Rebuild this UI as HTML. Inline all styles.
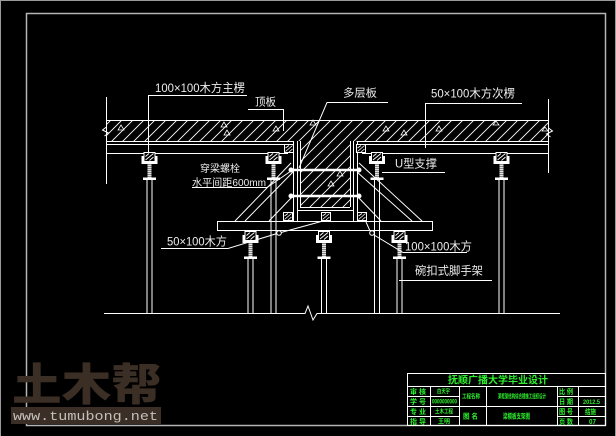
<!DOCTYPE html>
<html><head><meta charset="utf-8"><style>
html,body{margin:0;padding:0;background:#000;}
svg{display:block}
.t{font-family:"Liberation Sans","Noto Sans CJK SC",sans-serif;fill:#ececec}
.g{font-family:"Liberation Sans","Noto Sans CJK SC",sans-serif;fill:#2ef02e;font-weight:bold}
</style></head><body>
<svg width="616" height="436" viewBox="0 0 616 436" xmlns="http://www.w3.org/2000/svg">
<defs>
<pattern id="h" patternUnits="userSpaceOnUse" width="11" height="11">
<path d="M0,11 L11,0 M-1,1 L1,-1 M10,12 L12,10" stroke="#fff" stroke-width="0.9"/>
</pattern>
<clipPath id="sc"><path d="M106,120 H548 V141 H350 V207 H300 V141 H106 Z"/></clipPath>
<g id="u">
<rect x="-8" y="4" width="16" height="8" fill="#fff"/>
<rect x="-5.5" y="0.5" width="11" height="9" fill="#000" stroke="#fff" stroke-width="1"/>
<path d="M-4,8 L4,1.5 M-4,4.5 L-0.5,1.5 M0,8.5 L4,5" stroke="#fff" stroke-width="0.9" fill="none"/>
<rect x="-2" y="12" width="4" height="14" fill="#888"/>
<path d="M-2,13.5h4M-2,15.5h4M-2,17.5h4M-2,19.5h4M-2,21.5h4M-2,23.5h4M-2,25.5h4" stroke="#fff" stroke-width="0.8"/>
<rect x="-6.5" y="25.5" width="13" height="2.5" fill="#fff"/>
</g>
<g id="blk">
<rect x="0.5" y="0.5" width="9" height="8" fill="#000" stroke="#fff"/>
<path d="M1.5,7.5 L8.5,1.5 M1.5,4 L5,1.5 M5,8 L8.5,5" stroke="#fff" stroke-width="0.8"/>
</g>
</defs>
<rect width="616" height="436" fill="#000"/>
<!-- outer border -->
<path d="M0.5,436 V0.5 H615.5 V436" stroke="#9a9a9a" fill="none"/>
<rect x="26.5" y="13.5" width="579" height="412" fill="none" stroke="#b4b4b4" stroke-width="1.5"/>

<!-- slab + beam hatch -->
<rect x="100" y="115" width="460" height="100" fill="url(#h)" clip-path="url(#sc)"/>
<g stroke="#fff" stroke-width="1" fill="none">
<path d="M106,120.5 H548"/>
<path d="M106,141.5 H293.5 M356.5,141.5 H548"/>
<path d="M106,144.5 H288 M362,144.5 H548"/>
<path d="M106,153.5 H288 M362,153.5 H548"/>
<!-- extension lines -->
<path d="M106.5,97 V184"/>
<path d="M548.5,99 V173"/>
<!-- break zigzags -->
<path d="M106.5,127 l-4,3 l6,3 l-4,3"/>
<path d="M548.5,128 l4,3 l-6,3 l4,3"/>
<!-- beam formwork -->
<path d="M293.5,141 V221 M297.5,141 V221 M300.5,141 V207"/>
<path d="M350.5,141 V207 M353.5,141 V221 M357.5,141 V221"/>
<path d="M300,207.5 H350 M297,210.5 H354"/>
</g>
<use href="#blk" x="284" y="144"/>
<use href="#blk" x="356" y="144"/>
<use href="#blk" x="283" y="212"/>
<use href="#blk" x="321" y="212"/>
<use href="#blk" x="357" y="212"/>
<!-- concrete marks -->
<g stroke="#fff" stroke-width="0.8" fill="none">
<path d="M118,130 l3,-5 l3,5 z M221,127 l3,-5 l3,5 z M224,135 l3,-5 l3,5 z M273,131 l3,-5 l3,5 z M383,131 l3,-5 l3,5 z M401,135 l3,-5 l3,5 z M436,131 l3,-5 l3,5 z M493,125 l3,-4 l3,4 z M542,131 l3,-4 l3,4 z M328,186 l3,-5 l3,5 z M337,176 l3,-5 l3,5 z M310,125 l3,-5 l3,5 z"/>
</g>
<!-- bolts -->
<g stroke="#fff" fill="#fff">
<path d="M290,170 H360 M290,196 H360" stroke-width="2.6"/>
<circle cx="291" cy="170" r="2"/><circle cx="359" cy="170" r="2"/>
<circle cx="291" cy="196" r="2"/><circle cx="359" cy="196" r="2"/>
</g>
<!-- diagonal struts -->
<g stroke="#fff" stroke-width="1" fill="none">
<path d="M291,163 L235,221 M293,172 L245,221 M293,196 L269,221"/>
<path d="M359,163 L422,221 M357,172 L412,221 M357,196 L381,221"/>
</g>
<!-- wide plank -->
<rect x="217.5" y="221.5" width="215" height="9" fill="#000" stroke="#fff"/>

<!-- poles -->
<g stroke="#fff" stroke-width="1" fill="none">
<path d="M147,179 V313 M152,179 V313"/>
<path d="M271,179 V313 M276,179 V313"/>
<path d="M374.5,179 V313 M379.5,179 V313"/>
<path d="M499,179 V313 M504,179 V313"/>
<path d="M248,258 V313 M253,258 V313"/>
<path d="M321.5,258 V313 M326.5,258 V313"/>
<path d="M397,258 V313 M402,258 V313"/>
</g>
<use href="#u" x="149.5" y="152"/>
<use href="#u" x="273.5" y="152"/>
<use href="#u" x="377" y="152"/>
<use href="#u" x="501.5" y="152"/>
<use href="#u" x="250.5" y="231"/>
<use href="#u" x="324" y="231"/>
<use href="#u" x="399.5" y="231"/>

<!-- ground -->
<path d="M104,313.5 H305 L308,306 L313,320 L317,313.5 H560" stroke="#fff" fill="none"/>

<!-- leaders -->
<g stroke="#fff" stroke-width="1" fill="none">
<path d="M148.5,95.5 H247 M148.5,95 V152"/>
<path d="M248,109.5 H283.5 V131"/>
<path d="M388,102.5 H327 L299,168"/>
<path d="M522,103.5 H425.5 V148"/>
<path d="M382,172.5 H445"/>
<path d="M192,187.5 H267 L291,171"/>
<path d="M161,248.5 H228 L277,233.5 M281,232.5 L323,221"/>
<circle cx="279" cy="233" r="2.3"/>
<path d="M467,252.5 H403 L374,235 M370,231 L366,222"/>
<circle cx="372" cy="233" r="2.3"/>
<path d="M399,280.5 H492"/>
</g>

<!-- labels -->
<text class="t" x="155" y="92" font-size="12" textLength="90" lengthAdjust="spacingAndGlyphs">100×100木方主楞</text>
<text class="t" x="255" y="105.5" font-size="11" textLength="21" lengthAdjust="spacingAndGlyphs">顶板</text>
<text class="t" x="343" y="96.5" font-size="11" textLength="34" lengthAdjust="spacingAndGlyphs">多层板</text>
<text class="t" x="431" y="97.5" font-size="12" textLength="84" lengthAdjust="spacingAndGlyphs">50×100木方次楞</text>
<text class="t" x="200" y="172" font-size="10" textLength="40" lengthAdjust="spacingAndGlyphs">穿梁螺栓</text>
<text class="t" x="192" y="186" font-size="10.5" textLength="74" lengthAdjust="spacingAndGlyphs">水平间距600mm</text>
<text class="t" x="395" y="167.5" font-size="11.5" textLength="42" lengthAdjust="spacingAndGlyphs">U型支撑</text>
<text class="t" x="167" y="245.5" font-size="12" textLength="60" lengthAdjust="spacingAndGlyphs">50×100木方</text>
<text class="t" x="405" y="250.5" font-size="12" textLength="67" lengthAdjust="spacingAndGlyphs">100×100木方</text>
<text class="t" x="415" y="274.5" font-size="11.5" textLength="68" lengthAdjust="spacingAndGlyphs">碗扣式脚手架</text>

<!-- title block -->
<g stroke="#fff" stroke-width="1" fill="none">
<rect x="407.5" y="373.5" width="198" height="52"/>
<path d="M407,386.5 H606 M407,406.5 H606"/>
<path d="M407,396.5 H459 M557,396.5 H606 M407,416.5 H459 M557,416.5 H606"/>
<path d="M430.5,386 V426 M459.5,386 V426 M486.5,386 V426 M557.5,386 V426 M578.5,386 V426"/>
</g>
<text class="g" x="448" y="383.5" font-size="10" textLength="100" lengthAdjust="spacingAndGlyphs">抚顺广播大学毕业设计</text>
<text class="g" x="410" y="394" font-size="7" textLength="16" lengthAdjust="spacingAndGlyphs">审 核</text>
<text class="g" x="410" y="404" font-size="7" textLength="16" lengthAdjust="spacingAndGlyphs">学 号</text>
<text class="g" x="410" y="414" font-size="7" textLength="16" lengthAdjust="spacingAndGlyphs">专 业</text>
<text class="g" x="410" y="424" font-size="7" textLength="16" lengthAdjust="spacingAndGlyphs">指 导</text>
<text class="g" x="437" y="393.5" font-size="6" textLength="13" lengthAdjust="spacingAndGlyphs">白天宇</text>
<text class="g" x="432" y="403.5" font-size="6" textLength="25" lengthAdjust="spacingAndGlyphs">0000000000</text>
<text class="g" x="435" y="413.5" font-size="6" textLength="18" lengthAdjust="spacingAndGlyphs">土木工程</text>
<text class="g" x="438" y="423.5" font-size="6" textLength="12" lengthAdjust="spacingAndGlyphs">王明</text>
<text class="g" x="462" y="398.5" font-size="6" textLength="18" lengthAdjust="spacingAndGlyphs">工程名称</text>
<text class="g" x="498" y="398.5" font-size="6" textLength="48" lengthAdjust="spacingAndGlyphs">某框架结构综合楼施工组织设计</text>
<text class="g" x="463" y="418.5" font-size="7" textLength="15" lengthAdjust="spacingAndGlyphs">图 名</text>
<text class="g" x="503" y="418.5" font-size="7" textLength="27" lengthAdjust="spacingAndGlyphs">梁模板支架图</text>
<text class="g" x="559" y="394" font-size="7" textLength="14" lengthAdjust="spacingAndGlyphs">比 例</text>
<text class="g" x="559" y="404" font-size="7" textLength="14" lengthAdjust="spacingAndGlyphs">日 期</text>
<text class="g" x="559" y="414" font-size="7" textLength="14" lengthAdjust="spacingAndGlyphs">图 号</text>
<text class="g" x="559" y="424" font-size="7" textLength="14" lengthAdjust="spacingAndGlyphs">页 数</text>
<text class="g" x="583" y="404" font-size="6.5" textLength="17" lengthAdjust="spacingAndGlyphs">2012.5</text>
<text class="g" x="585" y="414" font-size="7" textLength="11" lengthAdjust="spacingAndGlyphs">结施</text>
<text class="g" x="589" y="424" font-size="7" textLength="7" lengthAdjust="spacingAndGlyphs">07</text>

<!-- watermark -->
<text x="12" y="400" font-family="'Noto Sans CJK SC','WenQuanYi Zen Hei',sans-serif" font-weight="900" font-size="44" fill="#3b2e25" textLength="149" lengthAdjust="spacingAndGlyphs">土木帮</text>
<rect x="11" y="407" width="150" height="17" fill="#3a2e26"/>
<text x="13" y="420" font-family="'Liberation Mono',monospace" font-size="13" fill="#c4c0bc" textLength="145" lengthAdjust="spacingAndGlyphs">www.tumubong.net</text>
</svg>
</body></html>
